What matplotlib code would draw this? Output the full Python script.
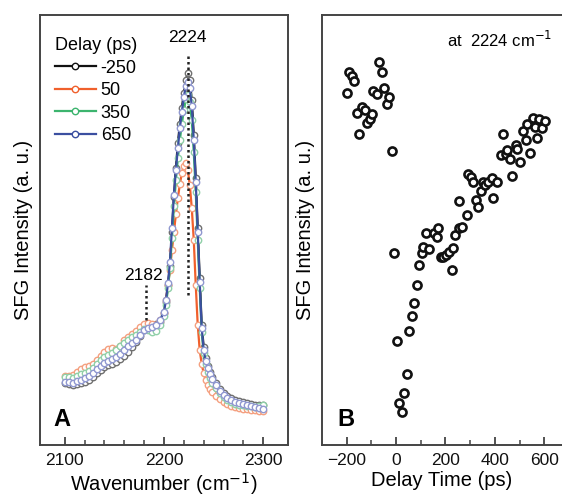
import matplotlib
matplotlib.use("Agg")
import matplotlib.pyplot as plt
from matplotlib.lines import Line2D

plt.rcParams['font.family'] = ['Liberation Sans', 'DejaVu Sans']

# ---------------- Panel A data ----------------
wavenumber = ([2100, 2104, 2108, 2112, 2116, 2120, 2124, 2128, 2132, 2136, 2140, 2144, 2148,
               2152, 2156, 2160, 2164, 2168, 2172, 2176, 2180, 2184, 2188, 2192, 2196, 2200]
              + [2202, 2204, 2206, 2208, 2210, 2212, 2214, 2216, 2218, 2220, 2222, 2224,
                 2226, 2228, 2230, 2232, 2234, 2236, 2238, 2240, 2242, 2244, 2246, 2248]
              + [2252, 2256, 2260, 2264, 2268, 2272, 2276, 2280, 2284, 2288, 2292, 2296, 2300])

sfg_m250 = ([62, 61, 60, 61, 62, 63, 65, 68, 72, 75, 78, 80, 81, 83, 86, 89, 93, 98, 103, 109, 115, 118, 119, 121, 123, 132]
            + [143, 160, 179, 213, 248, 277, 302, 321, 337, 352, 365, 372, 365, 345, 310, 267, 217, 167, 120, 98, 87, 79, 73, 68]
            + [62, 56, 52, 49, 47, 45, 44, 43, 42, 41, 40, 40, 40])
sfg_50 = ([69, 69, 70, 73, 76, 78, 79, 81, 85, 89, 93, 96, 97, 96, 99, 105, 108, 111, 114, 118, 121, 122, 121, 120, 125, 132]
          + [145, 160, 175, 195, 213, 231, 247, 261, 272, 279, 282, 275, 260, 237, 205, 160, 120, 95, 81, 72, 65, 60, 56, 53]
          + [49, 46, 43, 41, 39, 38, 37, 36, 36, 35, 35, 34, 34])
sfg_350 = ([68, 68, 67, 69, 71, 72, 74, 77, 81, 85, 88, 90, 92, 95, 99, 102, 105, 108, 110, 113, 116, 115, 113, 114, 120, 129]
           + [140, 157, 177, 207, 239, 265, 287, 305, 321, 335, 346, 350, 343, 325, 293, 253, 205, 157, 113, 92, 81, 73, 67, 62]
           + [57, 52, 48, 45, 43, 41, 40, 40, 39, 39, 38, 39, 40])
sfg_650 = ([63, 63, 62, 64, 65, 67, 69, 72, 76, 79, 82, 84, 86, 88, 91, 95, 99, 102, 105, 110, 115, 117, 118, 120, 125, 133]
           + [145, 162, 183, 217, 250, 275, 297, 317, 333, 348, 359, 363, 357, 339, 305, 263, 213, 163, 117, 95, 84, 77, 71, 66]
           + [60, 54, 50, 47, 45, 43, 42, 41, 40, 39, 38, 37, 36])

delay_labels = ['-250', '50', '350', '650']
line_colors = ['#111111', '#f0602c', '#3cb46e', '#3b4fa0']
marker_edges = ['#707070', '#f4a080', '#90d0a8', '#9098d0']

# ---------------- Panel B data ----------------
delay_time = [-199.2, -188.7, -176.6, -168.5, -158.8, -148.3, -138.6, -125.3, -117.2, -105.0,
              -95.8, -91.7, -78.0, -67.5, -57.8, -48.5, -36.4, -27.0, -17.4,
              -8.0, 2.8, 13.3, 23.0, 32.3, 43.2, 52.5, 63.4, 72.7, 83.6, 94.1, 103.8, 110.3,
              121.2, 134.5, 153.5, 164.4, 170.9, 180.6, 188.7, 202.0, 215.4, 225.0, 231.5,
              238.4, 255.8, 255.8, 265.5, 285.7, 292.1, 301.8, 312.3, 323.2, 332.5, 342.2,
              350.3, 359.6, 372.9, 386.7, 390.7, 409.3, 423.0, 433.5, 444.4, 449.7, 463.4,
              471.5, 484.8, 490.1, 501.0, 514.3, 525.3, 530.5, 544.2, 554.7, 561.6, 570.9,
              579.0, 592.7, 602.0]
sfg_2224 = [352.3, 372.7, 369.0, 364.3, 332.3, 311.0, 337.7, 335.0, 322.3, 326.0,
            331.0, 354.3, 350.7, 383.3, 372.7, 357.3, 340.7, 347.7, 294.3,
            192.3, 103.7, 41.7, 33.3, 51.7, 71.0, 114.0, 129.3, 141.7, 160.0, 180.3, 191.7, 198.3,
            212.3, 195.7, 212.3, 207.7, 216.7, 187.7, 187.7, 190.0, 193.3, 175.0, 196.7,
            210.0, 216.7, 244.3, 218.3, 230.0, 271.0, 267.7, 263.3, 245.0, 237.7, 254.3,
            263.3, 260.0, 263.3, 266.7, 246.7, 263.3, 290.0, 311.0, 291.0, 295.0, 285.7,
            269.0, 300.0, 295.7, 283.3, 314.3, 305.0, 321.0, 292.3, 326.7, 317.7, 306.7,
            325.7, 316.7, 324.3]

fig = plt.figure(figsize=(5.62, 4.99), dpi=100)
frame_col = '#444444'

axA = fig.add_axes([40/562, 54/499, 248/562, 430/499])
axB = fig.add_axes([322/562, 54/499, 240/562, 430/499])

series = [sfg_m250, sfg_50, sfg_350, sfg_650]
for vals, lab, lc, me in zip(series, delay_labels, line_colors, marker_edges):
    axA.plot(wavenumber, vals, '-', color=lc, lw=1.6, marker='o', ms=4.6,
             mfc='white', mec=me, mew=1.0, label=lab)

axA.plot([2224, 2224], [150, 390], ls=(0, (1, 1.2)), color='#222222', lw=1.8, zorder=10)
axA.plot([2182, 2182], [125, 160], ls=(0, (1, 1.2)), color='#222222', lw=1.8, zorder=10)
axA.text(2224, 407, '2224', ha='center', va='center', fontsize=12.5)
axA.text(2179, 170, '2182', ha='center', va='center', fontsize=12.5)
axA.text(0.055, 0.06, 'A', transform=axA.transAxes, fontsize=17, fontweight='bold',
         ha='left', va='center')

handles = [Line2D([], [], color=lc, lw=1.6, marker='o', ms=4.6, mfc='white', mec=lc, mew=1.0)
           for lc in line_colors]
leg = axA.legend(handles, delay_labels, title='Delay (ps)', loc='upper left',
                 bbox_to_anchor=(0.03, 0.965), frameon=False, fontsize=13,
                 title_fontsize=13, handlelength=2.3, handletextpad=0.25,
                 labelspacing=0.3, numpoints=1, borderaxespad=0.0)
leg._legend_box.align = 'left'

axA.set_xlim(2075, 2325)
axA.set_ylim(0, 430)
axA.set_xticks([2100, 2200, 2300])
axA.set_xticks(range(2100, 2301, 20), minor=True)
axA.set_yticks([])
axA.set_xlabel('Wavenumber (cm$^{-1}$)', fontsize=14.5, labelpad=2)
axA.set_ylabel('SFG Intensity (a. u.)', fontsize=14.5, labelpad=5)

axB.plot(delay_time, sfg_2224, 'o', ms=5.8, mfc='white', mec='#111111', mew=1.9, ls='none')
axB.set_xlim(-300, 672)
axB.set_ylim(0, 430)
axB.set_xticks([-200, 0, 200, 400, 600])
axB.set_xticks([-100, 100, 300, 500], minor=True)
axB.set_yticks([])
axB.set_xlabel('Delay Time (ps)', fontsize=14.5, labelpad=2)
axB.set_ylabel('SFG Intensity (a. u.)', fontsize=14.5, labelpad=5)
axB.text(0.96, 0.942, 'at  2224 cm$^{-1}$', transform=axB.transAxes, fontsize=12,
         ha='right', va='center')
axB.text(0.063, 0.06, 'B', transform=axB.transAxes, fontsize=17, fontweight='bold',
         ha='left', va='center')
axB.spines['right'].set_visible(False)

for ax in (axA, axB):
    for s in ax.spines.values():
        s.set_color(frame_col)
        s.set_linewidth(1.4)
    ax.tick_params(axis='x', which='major', direction='in', length=6, width=1.3,
                   labelsize=12.5, pad=6, colors=frame_col, labelcolor='#111111')
    ax.tick_params(axis='x', which='minor', direction='in', length=3.5, width=1.1,
                   colors=frame_col)
    ax.tick_params(axis='x', top=False)

fig.savefig('out.png', dpi=100)
